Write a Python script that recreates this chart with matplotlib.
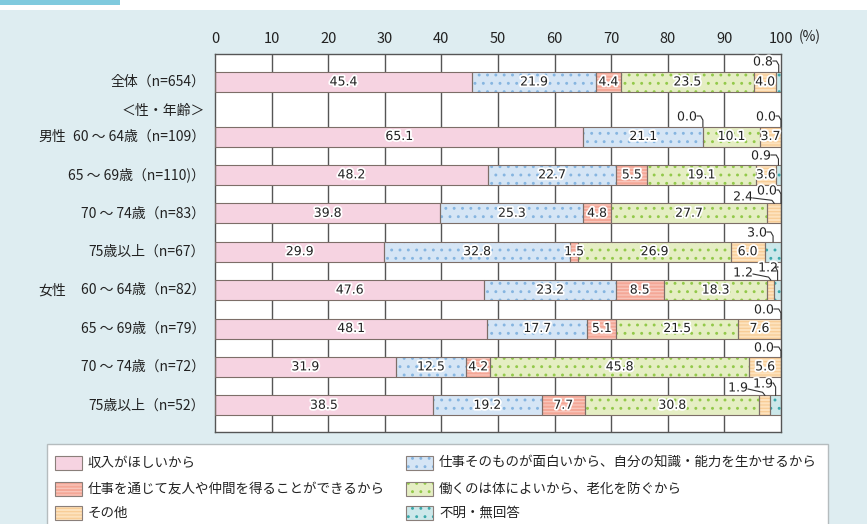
import matplotlib
matplotlib.use('Agg')
import matplotlib.pyplot as plt
from matplotlib.patches import Rectangle
import matplotlib.patheffects as pe

plt.rcParams['font.family'] = ['Noto Sans CJK JP', 'DejaVu Sans']
plt.rcParams['hatch.linewidth'] = 0.9

# ---------------- data ----------------
categories = ['収入がほしいから',
              '仕事そのものが面白いから、自分の知識・能力を生かせるから',
              '仕事を通じて友人や仲間を得ることができるから',
              '働くのは体によいから、老化を防ぐから',
              'その他',
              '不明・無回答']
group_labels = ['全体（n=654）', '60 ～ 64歳（n=109）', '65 ～ 69歳（n=110)）',
                '70 ～ 74歳（n=83）', '75歳以上（n=67）', '60 ～ 64歳（n=82）',
                '65 ～ 69歳（n=79）', '70 ～ 74歳（n=72）', '75歳以上（n=52）']
sex_labels = ['', '男性', '', '', '', '女性', '', '', '']
income   = [45.4, 65.1, 48.2, 39.8, 29.9, 47.6, 48.1, 31.9, 38.5]
interest = [21.9, 21.1, 22.7, 25.3, 32.8, 23.2, 17.7, 12.5, 19.2]
friends  = [4.4, 0.0, 5.5, 4.8, 1.5, 8.5, 5.1, 4.2, 7.7]
health   = [23.5, 10.1, 19.1, 27.7, 26.9, 18.3, 21.5, 45.8, 30.8]
other    = [4.0, 3.7, 3.6, 2.4, 6.0, 1.2, 7.6, 5.6, 1.9]
unknown  = [0.8, 0.0, 0.9, 0.0, 3.0, 1.2, 0.0, 0.0, 1.9]
ticks = [0, 10, 20, 30, 40, 50, 60, 70, 80, 90, 100]
series = [income, interest, friends, health, other, unknown]

# ---------------- style ----------------
face = ['#f6d3e1', '#d5e5f5', '#f4a797', '#e5eec3', '#fde2bd', '#cce8ea']
hcol = [None, '#86b5e0', '#f9c7bc', '#93c94a', '#f8cd96', '#3aa9ab']
hatch = [None, '..', '-----', '..', '-----', '..']
edge = '#7d6e68'
bg = '#deedf1'

W, H = 867, 524
fig = plt.figure(figsize=(W / 100, H / 100), dpi=100, facecolor=bg)

# background / decoration axes in pixel coords
bax = fig.add_axes([0, 0, 1, 1], zorder=0)
bax.set_xlim(0, W)
bax.set_ylim(H, 0)
bax.axis('off')
bax.add_patch(Rectangle((0, 0), W, 10, facecolor='white', edgecolor='none'))
bax.add_patch(Rectangle((0, 0), 120, 4.5, facecolor='#80cade', edgecolor='none'))

# chart axes
x0, x1, ytop, ybot = 215, 781, 54, 432
ax = fig.add_axes([x0 / W, 1 - ybot / H, (x1 - x0) / W, (ybot - ytop) / H], zorder=1)
ax.set_facecolor('white')
ax.set_xlim(0, 100)
ax.set_ylim(ybot, ytop)
pxu = (x1 - x0) / 100.0

def px2pct(px):
    return (px - x0) / pxu

centers = [82] + [136.5 + 38.4 * i for i in range(len(group_labels) - 1)]
bh = 20

for t in ticks[1:-1]:
    ax.axvline(t, color='#555555', lw=1.0, zorder=0.5)
for s in ax.spines.values():
    s.set_color('#555555')
    s.set_linewidth(1.0)

ax.xaxis.tick_top()
ax.set_xticks(ticks)
ax.set_xticklabels([str(t) for t in ticks], fontsize=10.5, color='#222222')
ax.tick_params(axis='x', length=0, pad=6)
ax.set_yticks([])
ax.text(px2pct(810), 37, '(%)', ha='center', va='center', fontsize=10, color='#222222', clip_on=False)

halo = [pe.withStroke(linewidth=2.6, foreground='white')]

# outside callouts: (group, category, text-center px, text y px, diagonal?)
callouts = [(0, 5, 763, 62, False), (1, 2, 687, 117, False), (1, 5, 766, 117, False),
            (2, 5, 761, 156, False), (3, 4, 743, 197, True), (3, 5, 767, 191, False),
            (4, 5, 757, 233, False), (5, 4, 743, 273, True), (5, 5, 768, 268, False),
            (6, 5, 764, 310, False), (7, 5, 764, 348, False), (8, 4, 738, 388, True),
            (8, 5, 763, 384, False)]
outside = {(g, c) for g, c, *_ in callouts}

for gi, yc in enumerate(centers):
    left = 0.0
    for ci, vals in enumerate(series):
        v = vals[gi]
        if v > 0:
            ax.barh(yc, v, left=left, height=bh, color=face[ci], edgecolor='none', zorder=2)
            if hatch[ci]:
                ax.barh(yc, v, left=left, height=bh, fill=False, hatch=hatch[ci],
                        edgecolor=hcol[ci], linewidth=0, zorder=2.5)
            ax.barh(yc, v, left=left, height=bh, fill=False, edgecolor=edge,
                    linewidth=0.8, zorder=3)
            if (gi, ci) not in outside:
                ax.text(left + v / 2, yc, f'{v:.1f}', ha='center', va='center',
                        fontsize=9, color='#222222', path_effects=halo, zorder=5,
                        family='DejaVu Sans')
        left += v

# callout labels with leader lines
for gi, ci, tx, ty, diag in callouts:
    v = series[ci][gi]
    start = sum(series[k][gi] for k in range(ci))
    tgt = start + v / 2
    ax.text(px2pct(tx), ty, f'{v:.1f}', ha='center', va='center', fontsize=9,
            color='#222222', path_effects=halo, zorder=6, clip_on=False, family='DejaVu Sans')
    bar_top = centers[gi] - bh / 2
    sx = px2pct(tx + 10)
    if diag:
        xs = [sx, tgt - 0.4, tgt]
        ys = [ty + 1, bar_top - 3, bar_top]
    else:
        xs = [sx, tgt - 0.4, tgt, tgt]
        ys = [ty - 1, ty - 1, ty + 3, bar_top]
    ax.plot(xs, ys, color='#333333', lw=0.8, zorder=6, clip_on=False)

# row labels
for gi, yc in enumerate(centers):
    ax.text(px2pct(205), yc, group_labels[gi], ha='right', va='center', fontsize=10,
            color='#222222', clip_on=False)
    if sex_labels[gi]:
        ax.text(px2pct(38), yc, sex_labels[gi], ha='left', va='center', fontsize=10,
                color='#222222', clip_on=False)
ax.text(px2pct(205), 111, '＜性・年齢＞', ha='right', va='center', fontsize=10,
        color='#222222', clip_on=False)

# legend (manual)
lax = fig.add_axes([0, 0, 1, 1], zorder=2)
lax.set_xlim(0, W)
lax.set_ylim(H, 0)
lax.axis('off')
lax.patch.set_alpha(0)
lax.add_patch(Rectangle((47, 444), 781, 90, facecolor='white', edgecolor='#b5bcbe', lw=1.0))
pos = [(55, 463), (406, 463), (55, 489), (406, 489), (55, 513), (406, 513)]
for ci, (lx, ly) in enumerate(pos):
    lax.add_patch(Rectangle((lx, ly - 7), 27, 14, facecolor=face[ci], edgecolor='none'))
    if hatch[ci]:
        lax.add_patch(Rectangle((lx, ly - 7), 27, 14, fill=False, hatch=hatch[ci],
                                edgecolor=hcol[ci], linewidth=0))
    lax.add_patch(Rectangle((lx, ly - 7), 27, 14, fill=False, edgecolor='#8a7f7a', lw=0.8))
    lax.text(lx + 33, ly, categories[ci], ha='left', va='center', fontsize=9.7, color='#222222')

fig.savefig('out.png', dpi=100, facecolor=bg)
